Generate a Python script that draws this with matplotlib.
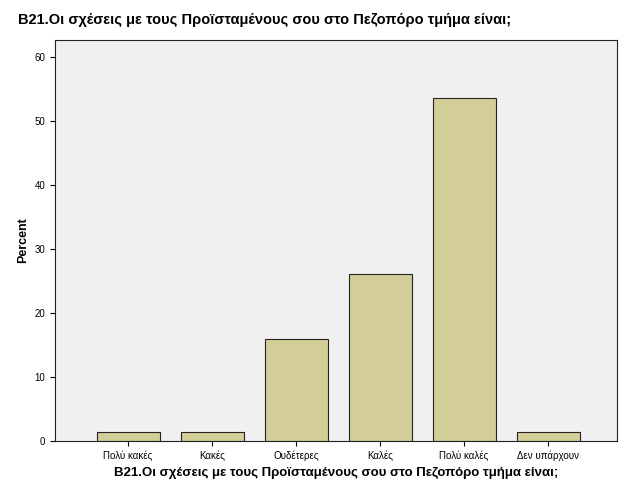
import matplotlib
matplotlib.use("Agg")
import matplotlib.pyplot as plt

categories = ["Πολύ κακές", "Κακές", "Ουδέτερες", "Καλές", "Πολύ καλές", "Δεν υπάρχουν"]
percent = [1.4, 1.4, 15.9, 26.1, 53.6, 1.4]
title = "B21.Οι σχέσεις με τους Προϊσταμένους σου στο Πεζοπόρο τμήμα είναι;"

plt.rcParams['font.family'] = ['Liberation Sans', 'DejaVu Sans']
fig = plt.figure(figsize=(6.26, 5.01), dpi=100)
ax = fig.add_axes([55/626, 1-441/501, 562/626, 401/501])
ax.set_facecolor("#f0f0f0")
x = range(len(categories))
ax.bar(x, percent, width=0.75, color="#d3ce98", edgecolor="#222222", linewidth=0.8)
ax.set_xlim(-0.87, len(categories)-1+0.82)
ax.set_ylim(0, 62.6)
ax.set_yticks(range(0, 61, 10))
ax.set_xticks(list(x))
ax.set_xticklabels(categories, fontsize=7)
ax.tick_params(axis='y', labelsize=7)
ax.set_ylabel("Percent", fontsize=9, fontweight='bold')
ax.set_xlabel(title, fontsize=9.5, fontweight='bold')
for s in ax.spines.values():
    s.set_color("#222222")
fig.text(18/626, 1-20/501, title, fontsize=10.5, fontweight='bold', va='center')
fig.savefig("out.png", dpi=100)
